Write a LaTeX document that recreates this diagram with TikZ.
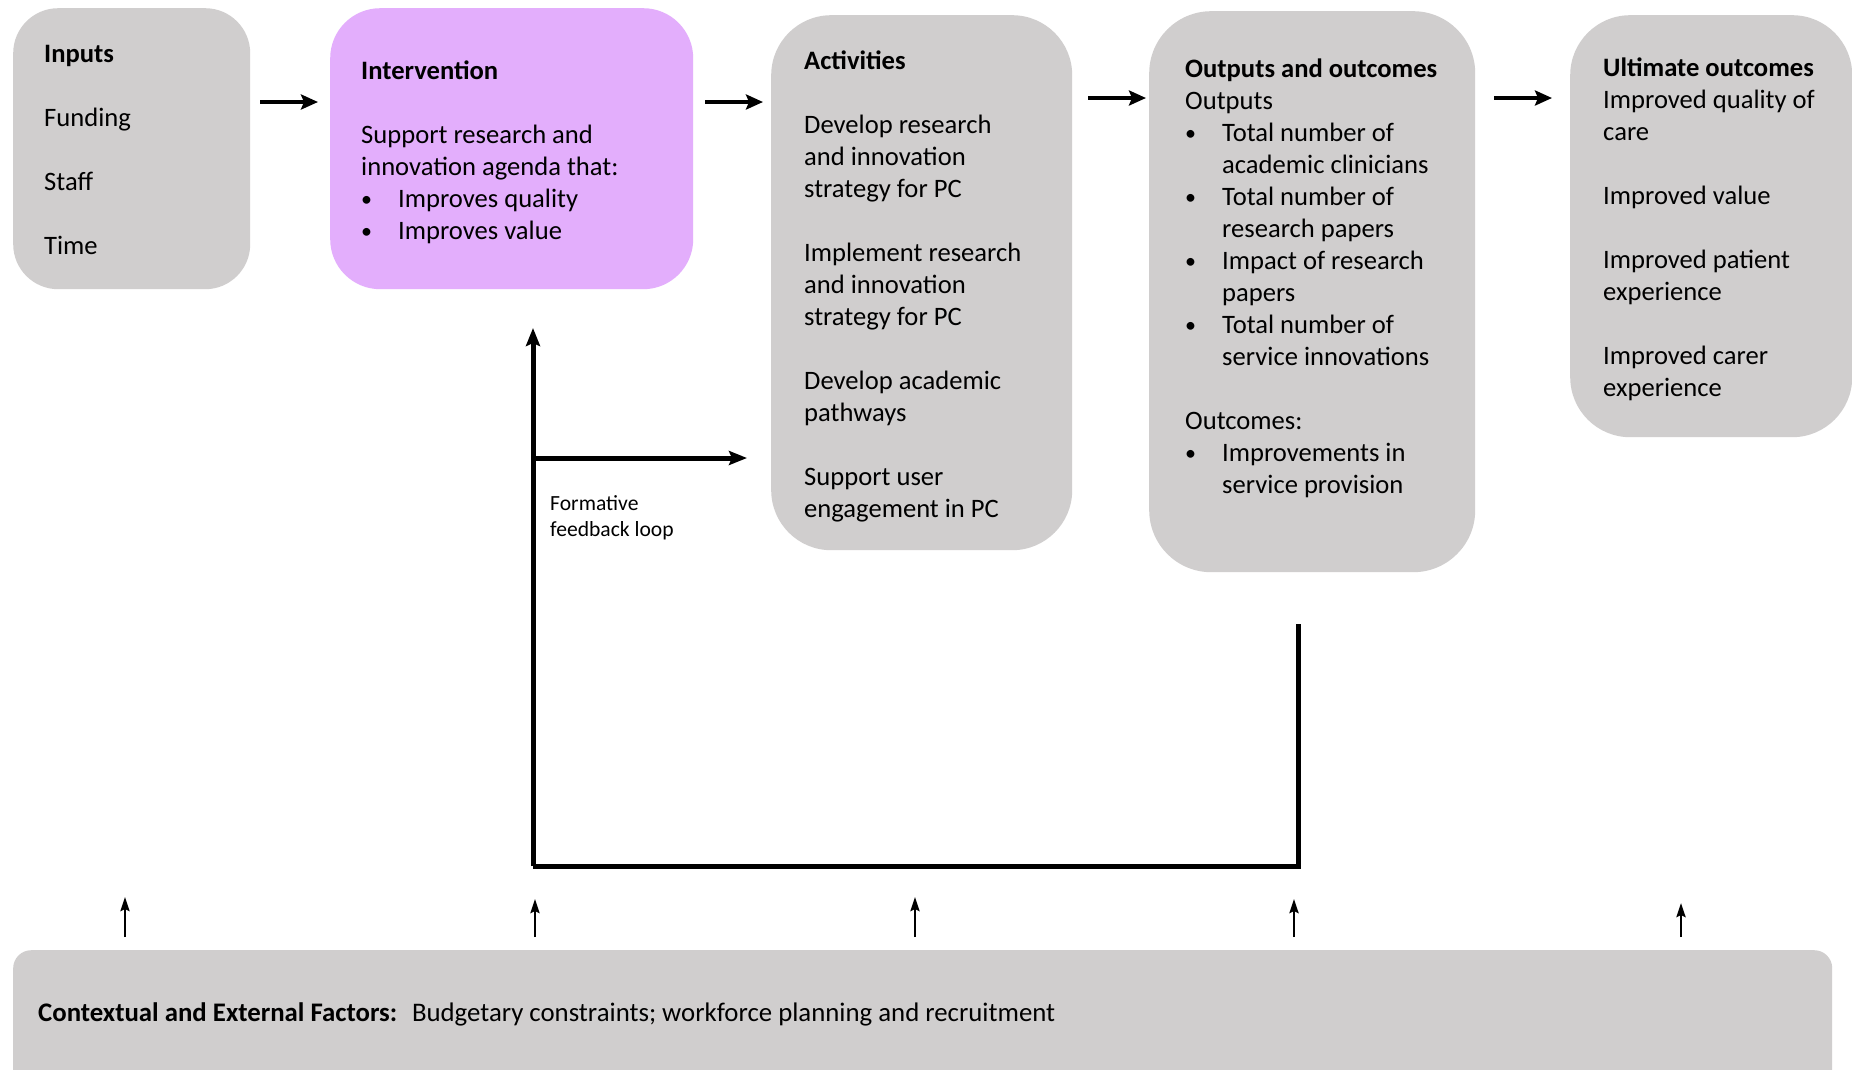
\documentclass[tikz,border=0pt]{standalone}
\usepackage{fontspec}
\setmainfont{Carlito}
\usetikzlibrary{arrows.meta}
\definecolor{boxgray}{HTML}{D0CECE}
\definecolor{intcolor}{HTML}{E3AEFC}
\newcommand\bitem[1]{\makebox[37pt][l]{{\fontsize{22}{22}\selectfont\raisebox{1pt}{•}}}#1}
\newcommand\bcont{\hspace*{37pt}}
\tikzset{
  box/.style={draw=none, fill=boxgray, anchor=north west, inner sep=0pt},
  txt/.style={anchor=north west, inner sep=0pt, align=left, font=\fontsize{26.6}{32}\selectfont},
  bigarrow/.style={line width=4.5pt, -{Stealth[length=17pt,width=15pt,inset=3pt]}},
  loopline/.style={line width=5pt},
  uparrow/.style={line width=2.6pt, -{Stealth[length=14pt,width=9pt,inset=2pt]}}
}
\begin{document}
\begin{tikzpicture}[x=1pt,y=-1pt]
\clip (0,0) rectangle (1852,1069);
\fill[white] (0,0) rectangle (1852,1069);

% boxes
\node[box, rounded corners=45pt, minimum width=237pt, minimum height=281pt] (inputs) at (13,8) {};
\node[box, fill=intcolor, rounded corners=50pt, minimum width=363pt, minimum height=281pt] (interv) at (330,8) {};
\node[box, rounded corners=60pt, minimum width=301pt, minimum height=535pt] (act) at (771,15) {};
\node[box, rounded corners=62pt, minimum width=326pt, minimum height=561pt] (outp) at (1149,11) {};
\node[box, rounded corners=60pt, minimum width=282pt, minimum height=422pt] (ult) at (1570,15) {};
\node[box, rounded corners=18pt, minimum width=1819pt, minimum height=160pt] (ctx) at (13,950) {};

% texts
\node[txt] (tinputs) at (44,45) {\textbf{Inputs}\\[32pt]Funding\\[32pt]Staff\\[32pt]Time};
\node[txt] (tinterv) at (361,61) {\textbf{Intervention}\\[32pt]Support research and\\innovation agenda that:\\\bitem{Improves quality}\\\bitem{Improves value}};
\node[txt] (tact) at (804,51) {\textbf{Activities}\\[32pt]Develop research\\and innovation\\strategy for PC\\[32pt]Implement research\\and innovation\\strategy for PC\\[32pt]Develop academic\\pathways\\[32pt]Support user\\engagement in PC};
\node[txt] (toutp) at (1185,59) {\textbf{Outputs and outcomes}\\Outputs\\\bitem{Total number of}\\\bcont academic clinicians\\\bitem{Total number of}\\\bcont research papers\\\bitem{Impact of research}\\\bcont papers\\\bitem{Total number of}\\\bcont service innovations\\[32pt]Outcomes:\\\bitem{Improvements in}\\\bcont service provision};
\node[txt] (tult) at (1603,58) {\textbf{Ultimate outcomes}\\Improved quality of\\care\\[32pt]Improved value\\[32pt]Improved patient\\experience\\[32pt]Improved carer\\experience};
\node[anchor=west, inner sep=0pt, font=\fontsize{26.8}{32}\selectfont] (tctx) at (38,1014) {\textbf{Contextual and External Factors:}\hspace{0.25em} Budgetary constraints; workforce planning and recruitment};
\node[anchor=north west, inner sep=0pt, align=left, font=\fontsize{21.6}{26}\selectfont] (tloop) at (550,495) {Formative\\feedback loop};

% horizontal arrows
\coordinate (a1s) at (260,102); \coordinate (a1e) at (318,102);
\coordinate (a2s) at (705,102); \coordinate (a2e) at (763,102);
\coordinate (a3s) at (1088,98); \coordinate (a3e) at (1146,98);
\coordinate (a4s) at (1494,98); \coordinate (a4e) at (1552,98);
\draw[bigarrow] (a1s) -- (a1e);
\draw[bigarrow] (a2s) -- (a2e);
\draw[bigarrow] (a3s) -- (a3e);
\draw[bigarrow] (a4s) -- (a4e);

% feedback loop
\coordinate (lbl) at (533,866);
\coordinate (ltop) at (533,328);
\coordinate (lmid) at (533,458);
\coordinate (lmidr) at (747,458);
\coordinate (lbr) at (1298,866);
\coordinate (lrtop) at (1298,624);
\draw[loopline, line join=miter] (lrtop) -- (lbr) -- (lbl);
\draw[loopline, -{Stealth[length=18pt,width=14pt,inset=3pt]}] (lbl) -- (ltop);
\draw[loopline, -{Stealth[length=18pt,width=14pt,inset=3pt]}] (lmid) -- (lmidr);

% up arrows from context box
\foreach \x/\t in {125/897, 535/899, 915/897, 1294/899, 1681/903} {
  \draw[uparrow] (\x,937) -- (\x,\t);
}
\end{tikzpicture}
\end{document}
